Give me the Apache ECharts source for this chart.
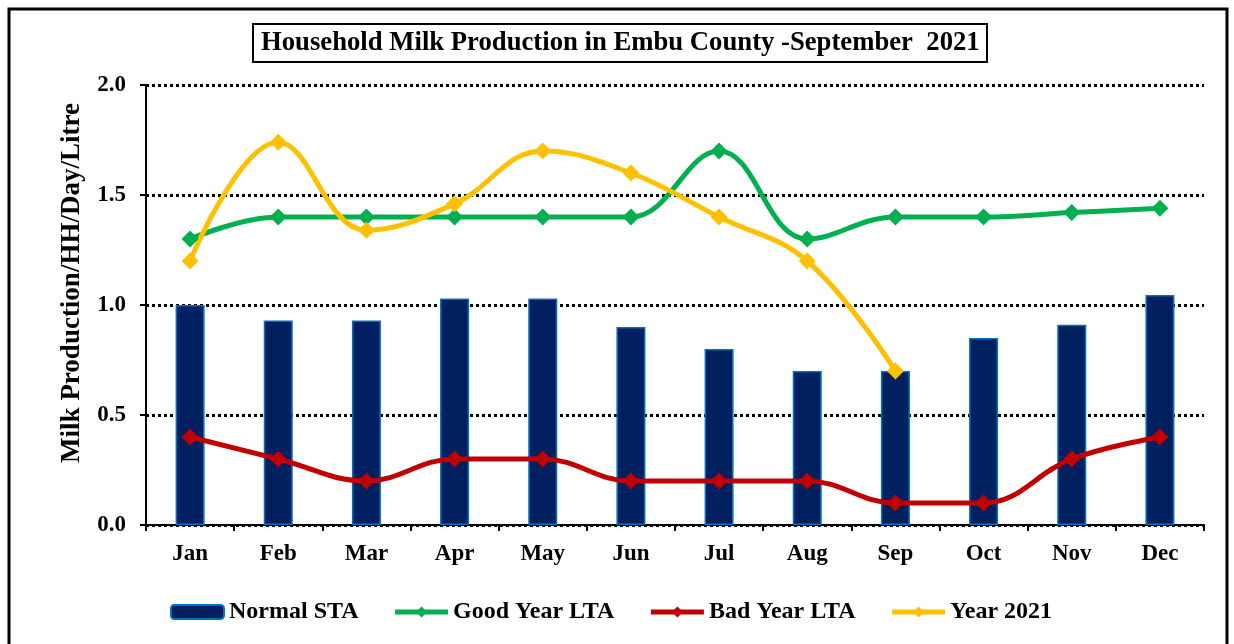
<!DOCTYPE html>
<html>
<head>
<meta charset="utf-8">
<script src="https://cdn.jsdelivr.net/npm/echarts@6/dist/echarts.min.js"></script>
<style>
  html, body { margin: 0; padding: 0; background: #fff; }
  #chart { width: 1234px; height: 644px; }
</style>
</head>
<body>
<div id="chart"></div>
<script>
// chart data
var months = ['Jan', 'Feb', 'Mar', 'Apr', 'May', 'Jun', 'Jul', 'Aug', 'Sep', 'Oct', 'Nov', 'Dec'];
var normalSTA = [1.0, 0.93, 0.93, 1.03, 1.03, 0.9, 0.8, 0.7, 0.7, 0.85, 0.91, 1.045];
var goodYearLTA = [1.3, 1.4, 1.4, 1.4, 1.4, 1.4, 1.7, 1.3, 1.4, 1.4, 1.42, 1.44];
var badYearLTA = [0.4, 0.3, 0.2, 0.3, 0.3, 0.2, 0.2, 0.2, 0.1, 0.1, 0.3, 0.4];
var year2021 = [1.2, 1.74, 1.34, 1.46, 1.7, 1.6, 1.4, 1.2, 0.7, null, null, null];
var yTicks = [0, 0.5, 1.0, 1.5, 2.0];

var serif = '"Liberation Serif", "Times New Roman", serif';

var myChart = echarts.init(document.getElementById('chart'));

function lineSeries(name, data, color) {
  return {
    name: name,
    type: 'line',
    data: data,
    smooth: 0.4,
    symbol: 'diamond',
    symbolSize: 17,
    showSymbol: true,
    connectNulls: false,
    lineStyle: { color: color, width: 5 },
    itemStyle: { color: color },
    z: 3
  };
}

var option = {
  backgroundColor: '#fff',
  animation: false,
  graphic: [{
    type: 'rect',
    shape: { x: 9, y: 9, width: 1218, height: 700 },
    style: { fill: 'none', stroke: '#000', lineWidth: 3 },
    silent: true
  }],
  title: {
    text: 'Household Milk Production in Embu County -September  2021',
    left: 253,
    top: 24,
    padding: [6, 8, 5, 8],
    borderColor: '#000',
    borderWidth: 2,
    textStyle: { fontFamily: serif, fontWeight: 'bold', fontSize: 26.7, color: '#000' }
  },
  legend: {
    left: 165,
    top: 595,
    itemWidth: 53,
    itemHeight: 14,
    itemGap: 34,
    lineStyle: { width: 5 },
    textStyle: { fontFamily: serif, fontWeight: 'bold', fontSize: 24, color: '#000' },
    data: ['Normal STA', 'Good Year LTA', 'Bad Year LTA', 'Year 2021']
  },
  grid: { left: 146, right: 30, top: 85, bottom: 119, containLabel: false },
  xAxis: {
    type: 'category',
    data: months,
    axisLine: { lineStyle: { color: '#000', width: 2 } },
    axisTick: { show: true, length: 6, lineStyle: { color: '#000', width: 2 } },
    axisLabel: { fontFamily: serif, fontWeight: 'bold', fontSize: 23, color: '#000', margin: 18 }
  },
  yAxis: {
    type: 'value',
    min: 0,
    max: 2,
    interval: 0.5,
    name: 'Milk Production/HH/Day/Litre',
    nameLocation: 'middle',
    nameGap: 60,
    nameTextStyle: { fontFamily: serif, fontWeight: 'bold', fontSize: 27, color: '#000', padding: [0, 0, 0, 44] },
    axisLine: { show: true, lineStyle: { color: '#000', width: 2 } },
    axisTick: { show: true, length: 6, lineStyle: { color: '#000', width: 2 } },
    axisLabel: {
      fontFamily: serif, fontWeight: 'bold', fontSize: 23, color: '#000', margin: 20,
      formatter: function (v) { return yTicks.indexOf(v) >= 0 ? v.toFixed(1) : ''; }
    },
    splitLine: { show: true, lineStyle: { color: '#000', width: 3, type: [3, 3] } }
  },
  series: [
    {
      name: 'Normal STA',
      type: 'bar',
      data: normalSTA,
      barWidth: 29,
      itemStyle: { color: '#002060', borderColor: '#0070C0', borderWidth: 1.5 },
      z: 2
    },
    lineSeries('Good Year LTA', goodYearLTA, '#00B050'),
    lineSeries('Bad Year LTA', badYearLTA, '#C00000'),
    lineSeries('Year 2021', year2021, '#FFC000')
  ]
};

myChart.setOption(option);
</script>
</body>
</html>
